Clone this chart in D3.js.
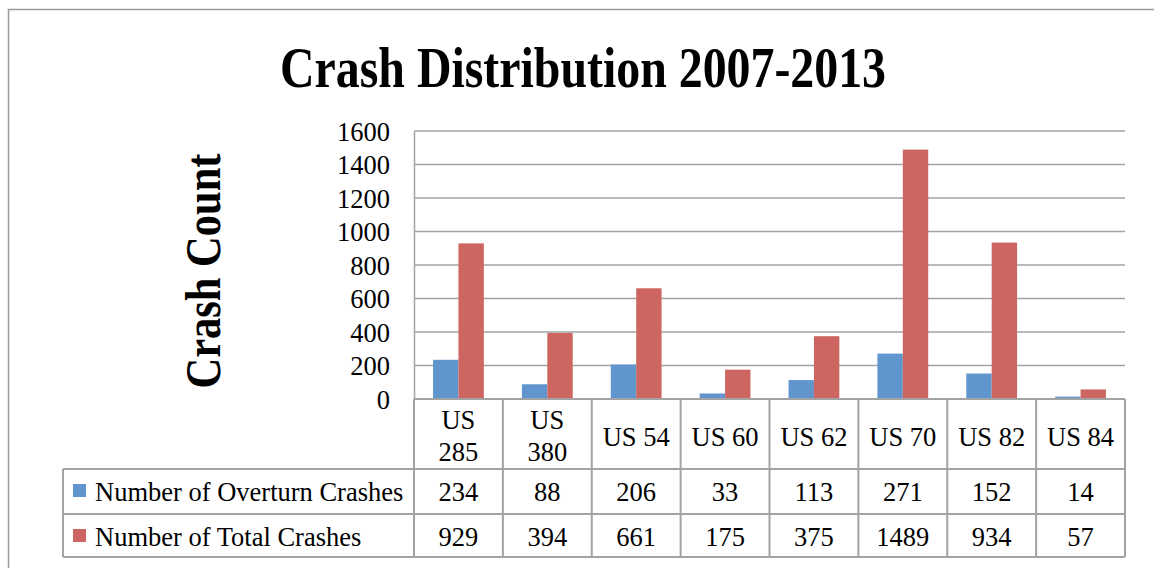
<!DOCTYPE html>
<html>
<head>
<meta charset="utf-8">
<script src="https://cdn.jsdelivr.net/npm/d3@7"></script>
<style>
  html, body { margin: 0; padding: 0; background: #fff; }
  svg text { font-family: "Liberation Serif", "Times New Roman", serif; fill: #000; }
</style>
</head>
<body>
<svg id="chart" width="1154" height="568"></svg>
<script>
const categories = ["US 285", "US 380", "US 54", "US 60", "US 62", "US 70", "US 82", "US 84"];
const seriesNames = ["Number of Overturn Crashes", "Number of Total Crashes"];
const overturnCrashes = [234, 88, 206, 33, 113, 271, 152, 14];
const totalCrashes = [929, 394, 661, 175, 375, 1489, 934, 57];
const yTicks = [0, 200, 400, 600, 800, 1000, 1200, 1400, 1600];
const colors = ["#6096cd", "#cd6660"];

const svg = d3.select("#chart");
const gridColor = "#a3a3a3";

const plot = { left: 414, right: 1125, top: 131, bottom: 399 };
const table = { left: 63, headBottom: 469, row1Bottom: 514, row2Bottom: 557 };

// outer chart border
svg.append("path")
  .attr("d", "M8.5,568 L8.5,9.5 L1154,9.5")
  .attr("fill", "none")
  .attr("stroke", "#9a9a9a")
  .attr("stroke-width", 1.5);

const x = d3.scaleBand().domain(categories).range([plot.left, plot.right]).padding(0);
const xs = d3.scaleBand().domain([0, 1]).range([0, x.bandwidth()]).paddingInner(0).paddingOuter(0.75);
const y = d3.scaleLinear().domain([0, 1600]).range([plot.bottom, plot.top]);

// title
svg.append("text")
  .attr("x", 583).attr("y", 87)
  .attr("text-anchor", "middle")
  .attr("font-size", 58)
  .attr("font-weight", "bold")
  .attr("textLength", 606)
  .attr("lengthAdjust", "spacingAndGlyphs")
  .text("Crash Distribution 2007-2013");

// y axis title
svg.append("text")
  .attr("transform", "translate(220,271) rotate(-90)")
  .attr("text-anchor", "middle")
  .attr("font-size", 50)
  .attr("font-weight", "bold")
  .attr("textLength", 235)
  .attr("lengthAdjust", "spacingAndGlyphs")
  .text("Crash Count");

// gridlines
svg.append("g")
  .selectAll("line")
  .data(yTicks.filter(d => d > 0))
  .join("line")
  .attr("x1", plot.left).attr("x2", plot.right)
  .attr("y1", d => y(d)).attr("y2", d => y(d))
  .attr("stroke", gridColor)
  .attr("stroke-width", 1.5);

// y axis
const yAxis = svg.append("g")
  .attr("transform", `translate(${plot.left},0)`)
  .call(d3.axisLeft(y).tickValues(yTicks).tickFormat(d3.format("d")).tickSize(0).tickPadding(24));
yAxis.select(".domain").attr("stroke", gridColor).attr("stroke-width", 1.5);
yAxis.selectAll("text")
  .attr("font-size", 26.5)
  .attr("font-family", "Liberation Serif, serif")
  .attr("dy", "0.34em");

// bars
const series = [overturnCrashes, totalCrashes];
series.forEach((vals, si) => {
  svg.append("g")
    .selectAll("rect")
    .data(vals)
    .join("rect")
    .attr("x", (d, i) => x(categories[i]) + xs(si))
    .attr("width", xs.bandwidth())
    .attr("y", d => y(d))
    .attr("height", d => y(0) - y(d))
    .attr("fill", colors[si]);
});

// data table
const tbl = svg.append("g").attr("stroke", gridColor).attr("stroke-width", 2);
[plot.bottom, table.headBottom, table.row1Bottom, table.row2Bottom].forEach((yy, i) => {
  tbl.append("line")
    .attr("x1", i === 0 ? plot.left : table.left).attr("x2", plot.right)
    .attr("y1", yy).attr("y2", yy);
});
const bounds = categories.map(c => x(c)).concat([plot.right]);
tbl.selectAll("line.v")
  .data(bounds)
  .join("line")
  .attr("class", "v")
  .attr("x1", d => d).attr("x2", d => d)
  .attr("y1", plot.bottom).attr("y2", table.row2Bottom);
tbl.append("line")
  .attr("x1", table.left).attr("x2", table.left)
  .attr("y1", table.headBottom).attr("y2", table.row2Bottom);

// category labels
svg.append("g")
  .selectAll("text")
  .data(categories)
  .join("text")
  .attr("text-anchor", "middle")
  .attr("font-size", 26.5)
  .each(function (d) {
    const cx = x(d) + x.bandwidth() / 2;
    const el = d3.select(this);
    if (d.length > 5) {
      const parts = d.split(" ");
      el.append("tspan").attr("x", cx).attr("y", 429).text(parts[0]);
      el.append("tspan").attr("x", cx).attr("y", 461).text(parts[1]);
    } else {
      el.attr("x", cx).attr("y", 446).text(d);
    }
  });

// value rows
const rowY = [501, 546];
series.forEach((vals, si) => {
  svg.append("g")
    .selectAll("text")
    .data(vals)
    .join("text")
    .attr("x", (d, i) => x(categories[i]) + x.bandwidth() / 2)
    .attr("y", rowY[si])
    .attr("text-anchor", "middle")
    .attr("font-size", 26.5)
    .text(d => d);

  svg.append("rect")
    .attr("x", 73).attr("y", rowY[si] - 17)
    .attr("width", 13).attr("height", 13)
    .attr("fill", colors[si]);
  svg.append("text")
    .attr("x", 95).attr("y", rowY[si])
    .attr("font-size", 26.5)
    .text(seriesNames[si]);
});
</script>
</body>
</html>
